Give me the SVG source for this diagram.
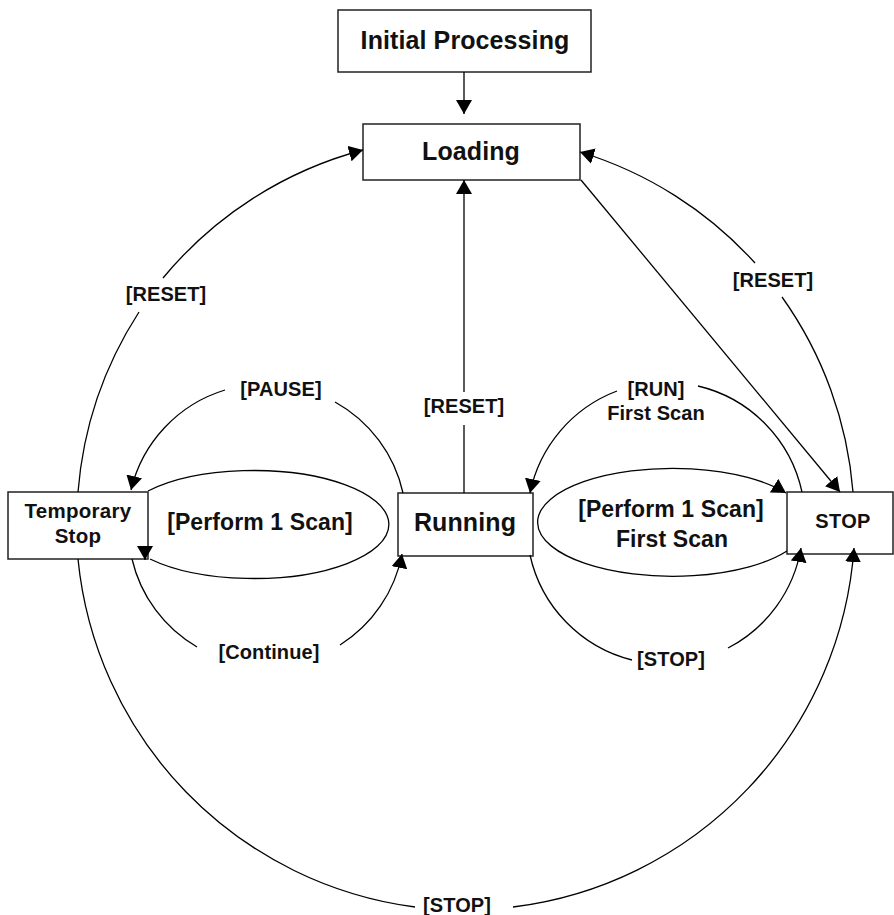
<svg xmlns="http://www.w3.org/2000/svg" width="894" height="915" viewBox="0 0 894 915">
<style>
  .box { fill: #fff; stroke: #222; stroke-width: 1.5; }
  .ln { fill: none; stroke: #000; stroke-width: 1.3; }
  text { font-family: "Liberation Sans", Arial, sans-serif; font-weight: bold; fill: #111; text-anchor: middle; }
  .big { font-size: 25px; letter-spacing: 0.1px; }
  .mid { font-size: 23px; letter-spacing: 0.1px; }
  .node { font-size: 20.5px; letter-spacing: 0.3px; }
  .lbl { font-size: 20px; letter-spacing: 0.1px; }
</style>
<defs>
  <marker id="arr" viewBox="0 0 14 16" refX="14" refY="8" markerWidth="14" markerHeight="16" markerUnits="userSpaceOnUse" orient="auto">
    <path d="M0,0 L14,8 L0,16 z" fill="#000"/>
  </marker>
</defs>
<rect width="894" height="915" fill="#fff"/>

<g id="initial-processing">
  <rect class="box" x="338" y="10" width="253" height="62"/>
  <text class="big" x="465" y="49">Initial Processing</text>
</g>
<g id="loading">
  <rect class="box" x="363" y="124" width="217" height="56"/>
  <text class="big" x="471" y="160">Loading</text>
</g>
<g id="temporary-stop">
  <rect class="box" x="8" y="492" width="140" height="67"/>
  <text class="node" x="78" y="518">Temporary</text>
  <text class="node" x="78" y="543">Stop</text>
</g>
<g id="running">
  <rect class="box" x="398" y="493" width="135" height="63"/>
  <text class="big" x="465" y="531">Running</text>
</g>
<g id="stop">
  <rect class="box" x="787" y="492" width="106" height="62"/>
  <text class="node" x="843" y="528" style="font-size:20px">STOP</text>
</g>

<g id="connectors">
  <path class="ln" d="M464,72 L464,114" marker-end="url(#arr)"/>
  <path class="ln" d="M464,493 L464,425"/>
  <path class="ln" d="M464,392 L464,180" marker-end="url(#arr)"/>
  <path class="ln" d="M581,180 L840,492" marker-end="url(#arr)"/>
  <path class="ln" d="M78,492 A389 389 0 0 1 139,312"/>
  <path class="ln" d="M163,278 A389 389 0 0 1 363,150" marker-end="url(#arr)"/>
  <path class="ln" d="M853,492 A389 389 0 0 0 782,297"/>
  <path class="ln" d="M755,263 A389 389 0 0 0 580,152" marker-end="url(#arr)"/>
  <path class="ln" d="M78,559 A389.5 389.5 0 0 0 415,907"/>
  <path class="ln" d="M513,907 A389.5 389.5 0 0 0 854,548" marker-end="url(#arr)"/>
  <path class="ln" d="M403,493 A138 138 0 0 0 335,402"/>
  <path class="ln" d="M225,390 A138 138 0 0 0 131,490" marker-end="url(#arr)"/>
  <path class="ln" d="M132,559 A138 138 0 0 0 197,647"/>
  <path class="ln" d="M340,645 A138 138 0 0 0 402,554" marker-end="url(#arr)"/>
  <path class="ln" d="M148,491 A135 54 0 1 1 150,559"/>
  <path class="ln" d="M145,548 L145,560" marker-end="url(#arr)"/>
  <path class="ln" d="M787,551 A135 54 0 1 1 786,493" marker-end="url(#arr)"/>
  <path class="ln" d="M802,492 A139 139 0 0 0 698,386"/>
  <path class="ln" d="M617,391 A139 139 0 0 0 530,493" marker-end="url(#arr)"/>
  <path class="ln" d="M530,555 A139 139 0 0 0 632,660"/>
  <path class="ln" d="M728,648 A139 139 0 0 0 801,548" marker-end="url(#arr)"/>
</g>

<g id="labels">
  <text class="lbl" x="166" y="301">[RESET]</text>
  <text class="lbl" x="773" y="287">[RESET]</text>
  <text class="lbl" x="464" y="413">[RESET]</text>
  <text class="lbl" x="281" y="396">[PAUSE]</text>
  <text class="lbl" x="656" y="396">[RUN]</text>
  <text class="lbl" x="656" y="420">First Scan</text>
  <text class="lbl" x="269" y="659">[Continue]</text>
  <text class="lbl" x="671" y="666">[STOP]</text>
  <text class="lbl" x="457" y="912">[STOP]</text>
  <text class="mid" x="260" y="530">[Perform 1 Scan]</text>
  <text class="mid" x="671" y="517">[Perform 1 Scan]</text>
  <text class="mid" x="672" y="547">First Scan</text>
</g>
</svg>
